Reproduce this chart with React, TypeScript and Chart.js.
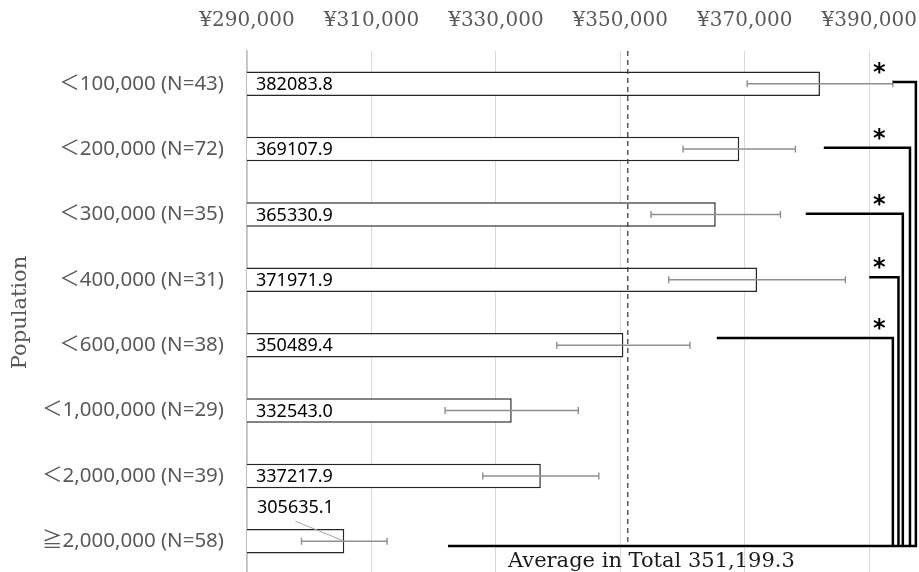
import React, { useEffect, useRef } from "react";
import { Chart, registerables } from "chart.js";

Chart.register(...registerables);

const CATEGORIES = [
  "＜100,000 (N=43)",
  "＜200,000 (N=72)",
  "＜300,000 (N=35)",
  "＜400,000 (N=31)",
  "＜600,000 (N=38)",
  "＜1,000,000 (N=29)",
  "＜2,000,000 (N=39)",
  "≧2,000,000 (N=58)",
];
const MEANS = [382083.8, 369107.9, 365330.9, 371971.9, 350489.4, 332543.0, 337217.9, 305635.1];
const ERRORS = [11700, 9030, 10400, 14200, 10700, 10700, 9320, 6880];
const LABEL_ABOVE = [false, false, false, false, false, false, false, true];

const X_TICKS = [290000, 310000, 330000, 350000, 370000, 390000];
const X_MIN = 290000;
const X_MAX = 398000;

const TOTAL_AVERAGE = 351199.3;
const AVERAGE_TEXT = "Average in Total";

// significance brackets: each marked row is linked to the last row
const SIG_ROWS = [0, 1, 2, 3, 4];
const SIG_FROM = [393800, 382700, 379800, 390000, 365500];
const SIG_TO = [397500, 396550, 395400, 394700, 393800];
const SIG_ROW_SHIFT = [-0.025, -0.02, -0.012, -0.04, -0.11];
const SIG_MARK = "*";
const BASE_FROM = 322300;
const BASE_SHIFT = 0.07;

const SANS = "'Noto Sans', 'Noto Sans CJK JP', sans-serif";
const SERIF = "'DejaVu Serif', serif";

const overlay = {
  id: "overlay",
  afterDatasetsDraw(chart: any) {
    const { ctx, chartArea } = chart;
    const x = chart.scales.x;
    const y = chart.scales.y;
    ctx.save();

    const lastRow = CATEGORIES.length - 1;
    const baseY = y.getPixelForValue(lastRow + BASE_SHIFT);

    // dashed total-average line
    const ax = x.getPixelForValue(TOTAL_AVERAGE);
    ctx.strokeStyle = "#404040";
    ctx.lineWidth = 1.3;
    ctx.setLineDash([5, 4]);
    ctx.beginPath();
    ctx.moveTo(ax, chartArea.top);
    ctx.lineTo(ax, baseY - 3);
    ctx.stroke();
    ctx.setLineDash([]);

    // error bars
    ctx.strokeStyle = "#8f8f8f";
    ctx.lineWidth = 1.4;
    MEANS.forEach((m, i) => {
      const cy = y.getPixelForValue(i);
      const x1 = x.getPixelForValue(m - ERRORS[i]);
      const x2 = x.getPixelForValue(m + ERRORS[i]);
      ctx.beginPath();
      ctx.moveTo(x1, cy);
      ctx.lineTo(x2, cy);
      ctx.moveTo(x1, cy - 3.5);
      ctx.lineTo(x1, cy + 3.5);
      ctx.moveTo(x2, cy - 3.5);
      ctx.lineTo(x2, cy + 3.5);
      ctx.stroke();
    });

    // value labels
    ctx.fillStyle = "#000000";
    ctx.font = `18px ${SANS}`;
    ctx.textBaseline = "middle";
    ctx.textAlign = "left";
    const x0 = x.getPixelForValue(X_MIN);
    MEANS.forEach((m, i) => {
      const cy = y.getPixelForValue(i);
      const txt = m.toFixed(1);
      if (!LABEL_ABOVE[i]) {
        ctx.fillText(txt, x0 + 9, cy + 1);
      } else {
        const ly = cy - 33;
        const w = ctx.measureText(txt).width;
        ctx.fillText(txt, x0 + 10, ly);
        const xe = x.getPixelForValue(m);
        ctx.strokeStyle = "#a6a6a6";
        ctx.lineWidth = 1;
        ctx.beginPath();
        ctx.moveTo(x0 + 10 + w / 2, ly + 13);
        ctx.lineTo(xe - 2, cy - 1);
        ctx.stroke();
      }
    });

    // significance brackets
    ctx.strokeStyle = "#000000";
    ctx.lineWidth = 2.5;
    ctx.lineCap = "butt";
    ctx.lineJoin = "miter";
    SIG_ROWS.forEach((r, k) => {
      const ry = y.getPixelForValue(r + SIG_ROW_SHIFT[k]);
      const xs = x.getPixelForValue(SIG_FROM[k]);
      const xe = x.getPixelForValue(SIG_TO[k]);
      ctx.beginPath();
      ctx.moveTo(xs, ry);
      ctx.lineTo(xe, ry);
      ctx.lineTo(xe, baseY);
      ctx.stroke();
    });
    const maxTo = Math.max(...SIG_TO);
    ctx.beginPath();
    ctx.moveTo(x.getPixelForValue(BASE_FROM), baseY);
    ctx.lineTo(x.getPixelForValue(maxTo) + 1.2, baseY);
    ctx.stroke();

    // asterisks
    ctx.fillStyle = "#000000";
    ctx.font = `bold 24px 'DejaVu Sans', sans-serif`;
    ctx.textAlign = "center";
    ctx.textBaseline = "middle";
    SIG_ROWS.forEach((r, k) => {
      const ry = y.getPixelForValue(r + SIG_ROW_SHIFT[k]);
      ctx.fillText(SIG_MARK, x.getPixelForValue(X_TICKS[X_TICKS.length - 1]) + 10, ry - 8);
    });

    // average caption
    ctx.fillStyle = "#1a1a1a";
    ctx.font = `21px ${SERIF}`;
    ctx.textAlign = "left";
    ctx.textBaseline = "middle";
    const avgTxt =
      AVERAGE_TEXT +
      " " +
      TOTAL_AVERAGE.toLocaleString("en-US", { minimumFractionDigits: 1, maximumFractionDigits: 1 });
    ctx.fillText(avgTxt, x.getPixelForValue(BASE_FROM) + 60, baseY + 16);

    ctx.restore();
  },
};

export default function App() {
  const ref = useRef<HTMLCanvasElement | null>(null);

  useEffect(() => {
    if (!ref.current) return;
    const chart = new Chart(ref.current, {
      type: "bar",
      data: {
        labels: CATEGORIES,
        datasets: [
          {
            data: MEANS,
            backgroundColor: "#ffffff",
            borderColor: "#262626",
            borderWidth: 1.5,
            borderSkipped: "start",
            barPercentage: 0.375,
            categoryPercentage: 1,
          },
        ],
      },
      options: {
        indexAxis: "y",
        animation: false,
        responsive: true,
        maintainAspectRatio: false,
        layout: { padding: 0 },
        plugins: {
          legend: { display: false },
          tooltip: { enabled: false },
        },
        scales: {
          x: {
            position: "top",
            min: X_MIN,
            max: X_MAX,
            afterBuildTicks: (s: any) => {
              s.ticks = X_TICKS.map((v) => ({ value: v }));
            },
            afterFit: (s: any) => {
              s.height = 51;
              s.paddingLeft = 0;
              s.paddingRight = 0;
            },
            ticks: {
              callback: (v: any) => "¥" + Number(v).toLocaleString("en-US"),
              font: { family: SERIF, size: 20 },
              color: "#595959",
              padding: 18,
              maxRotation: 0,
              autoSkip: false,
            },
            grid: { color: "#d9d9d9", lineWidth: 1, drawTicks: false },
            border: { display: false },
          },
          y: {
            afterFit: (s: any) => {
              s.width = 247;
              s.paddingTop = 0;
              s.paddingBottom = 0;
            },
            ticks: {
              font: { family: SANS, size: 20.5 },
              color: "#595959",
              padding: 23,
              autoSkip: false,
            },
            grid: { display: false, drawTicks: false },
            border: { color: "#bfbfbf", width: 1.5 },
            title: {
              display: true,
              text: "Population",
              font: { family: SERIF, size: 21 },
              color: "#595959",
              padding: { top: 8, bottom: 0 },
            },
          },
        },
      },
      plugins: [overlay],
    } as any);
    return () => chart.destroy();
  }, []);

  return (
    <div
      style={{
        position: "fixed",
        left: 0,
        top: 0,
        width: 919,
        height: 572,
        overflow: "hidden",
        background: "#ffffff",
      }}
    >
      <div style={{ position: "relative", width: 919, height: 574 }}>
        <canvas ref={ref} />
      </div>
    </div>
  );
}
